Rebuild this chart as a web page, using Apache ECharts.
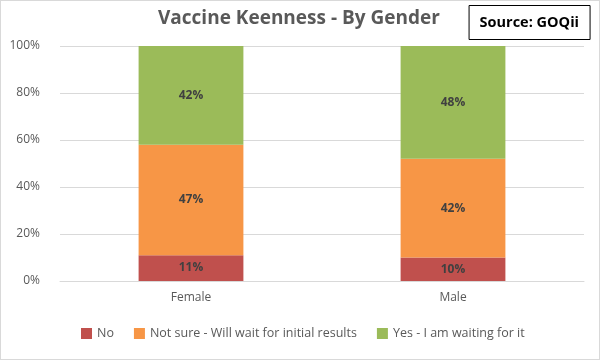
<!DOCTYPE html>
<html><head><meta charset="utf-8">
<script src="https://cdn.jsdelivr.net/npm/echarts@6/dist/echarts.min.js"></script>
<style>html,body{margin:0;padding:0;background:#fff}#c{width:600px;height:360px;box-sizing:border-box;border:1px solid #d9d9d9}</style>
</head><body><div id="c"></div>
<script>
const categories = ['Female', 'Male'];
const seriesNames = ['No', 'Not sure - Will wait for initial results', 'Yes - I am waiting for it'];
const noValues = [11, 10];
const notSureValues = [47, 42];
const yesValues = [42, 48];
const yTicks = [0, 20, 40, 60, 80, 100];

const FONT = 'Open Sans';
const colors = ['#C0504D', '#F79646', '#9BBB59'];
const data = [noValues, notSureValues, yesValues];

const chart = echarts.init(document.getElementById('c'));
chart.setOption({
  animation: false,
  textStyle: { fontFamily: FONT },
  title: [
    { text: 'Vaccine Keenness - By Gender', left: 152, top: 3,
      textStyle: { fontFamily: FONT, fontSize: 19, fontWeight: 'bold', color: '#595959' } },
    { text: 'Source: GOQii', right: 9, top: 4, borderColor: '#000', borderWidth: 1,
      padding: [10, 11, 10, 11],
      textStyle: { fontFamily: FONT, fontSize: 14.5, fontWeight: 'bold', color: '#000' } }
  ],
  legend: {
    bottom: 14, left: 75, itemWidth: 11, itemHeight: 11, itemGap: 20,
    icon: 'rect',
    textStyle: { fontFamily: FONT, fontSize: 12.5, color: '#595959' },
    data: seriesNames
  },
  grid: { left: 59, right: 15, top: 45, bottom: 78 },
  xAxis: {
    type: 'category', data: categories,
    axisLine: { lineStyle: { color: '#d9d9d9' } },
    axisTick: { show: false },
    axisLabel: { color: '#595959', fontSize: 12, margin: 11 }
  },
  yAxis: {
    type: 'value', min: 0, max: 100, interval: 20,
    axisLabel: { color: '#595959', fontSize: 12, margin: 20,
      formatter: v => yTicks.includes(v) ? v + '%' : '' },
    splitLine: { lineStyle: { color: '#d9d9d9' } },
    axisLine: { show: false }, axisTick: { show: false }
  },
  series: seriesNames.map((n, i) => ({
    name: n, type: 'bar', stack: 'total', barWidth: '40%',
    data: data[i],
    itemStyle: { color: colors[i] },
    label: { show: true, position: 'inside', formatter: '{c}%',
      fontFamily: FONT, fontSize: 12, fontWeight: 'bold', color: '#404040' }
  }))
});
</script></body></html>
